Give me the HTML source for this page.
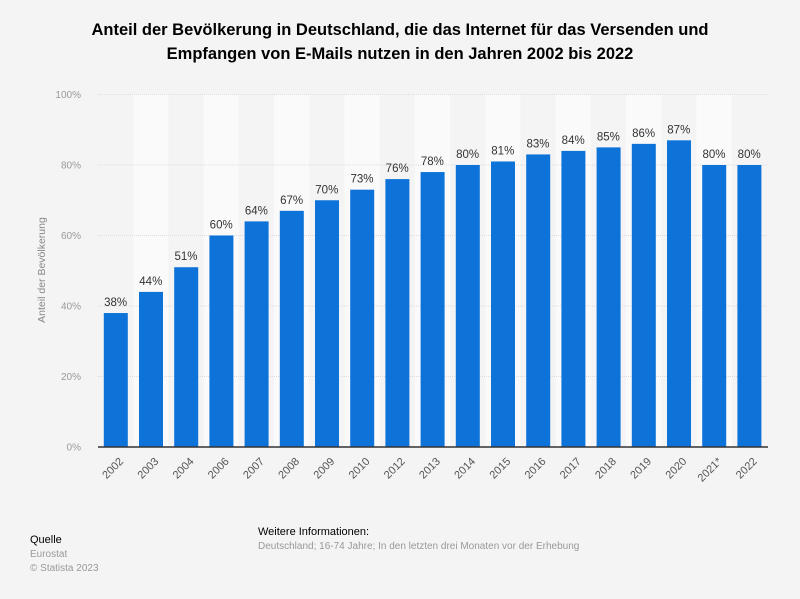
<!DOCTYPE html>
<html><head><meta charset="utf-8"><style>
body{margin:0;background:#f4f4f4;font-family:"Liberation Sans",sans-serif;}
</style></head><body>
<svg width="800" height="594" xmlns="http://www.w3.org/2000/svg" font-family="Liberation Sans, sans-serif">
<rect width="800" height="594" fill="#f4f4f4"/>
<text x="400" y="35" text-anchor="middle" font-size="16.5" font-weight="bold" fill="#000">Anteil der Bevölkerung in Deutschland, die das Internet für das Versenden und</text>
<text x="400" y="59" text-anchor="middle" font-size="16.5" font-weight="bold" fill="#000">Empfangen von E-Mails nutzen in den Jahren 2002 bis 2022</text>
<g id="bands"></g>
<g stroke="#dcdcdc" stroke-dasharray="1,1">
<line x1="98" x2="768" y1="94.5" y2="94.5"/>
<line x1="98" x2="768" y1="165" y2="165"/>
<line x1="98" x2="768" y1="235.5" y2="235.5"/>
<line x1="98" x2="768" y1="306" y2="306"/>
<line x1="98" x2="768" y1="376.5" y2="376.5"/>
</g>
<g font-size="10" fill="#999" text-anchor="end">
<text x="81" y="98">100%</text><text x="81" y="168.5">80%</text><text x="81" y="239">60%</text>
<text x="81" y="309.5">40%</text><text x="81" y="380">20%</text><text x="81" y="450.5">0%</text>
</g>
<text transform="translate(45,270) rotate(-90)" text-anchor="middle" font-size="10.5" fill="#888">Anteil der Bevölkerung</text>
<g id="bars"></g>
<line x1="98" x2="768" y1="447" y2="447" stroke="#333" stroke-width="1.5"/>
<text x="30" y="543" font-size="11" fill="#000">Quelle</text>
<text x="30" y="557" font-size="10" fill="#999">Eurostat</text>
<text x="30" y="571" font-size="10" fill="#999">© Statista 2023</text>
<text x="258" y="535" font-size="11" fill="#000">Weitere Informationen:</text>
<text x="258" y="549" font-size="10" fill="#999">Deutschland; 16-74 Jahre; In den letzten drei Monaten vor der Erhebung</text>
<script>
var yrs=["2002","2003","2004","2006","2007","2008","2009","2010","2012","2013","2014","2015","2016","2017","2018","2019","2020","2021*","2022"];
var v=[38,44,51,60,64,67,70,73,76,78,80,81,83,84,85,86,87,80,80];
var ns="http://www.w3.org/2000/svg",b=document.getElementById("bars"),bd=document.getElementById("bands");
function el(t,a,p,tx){var e=document.createElementNS(ns,t);for(var k in a)e.setAttribute(k,a[k]);if(tx)e.textContent=tx;p.appendChild(e);}
for(var i=0;i<19;i++){var x=98+i*35.2;
if(i%2==1)el("rect",{x:x,y:94,width:35.2,height:353,fill:"#fafafa"},bd);
var h=v[i]*3.525,y=447-h;
el("rect",{x:x+5.8,y:y,width:24,height:h,fill:"#0e73d8"},b);
el("text",{x:x+17.6,y:y-7,"text-anchor":"middle","font-size":"11.5",fill:"#333"},b,v[i]+"%");
var cx=x+26,cy=462;
el("text",{transform:"translate("+cx+","+cy+") rotate(-45)","text-anchor":"end","font-size":"11",fill:"#555"},b,yrs[i]);}
</script>
</svg>
</body></html>
